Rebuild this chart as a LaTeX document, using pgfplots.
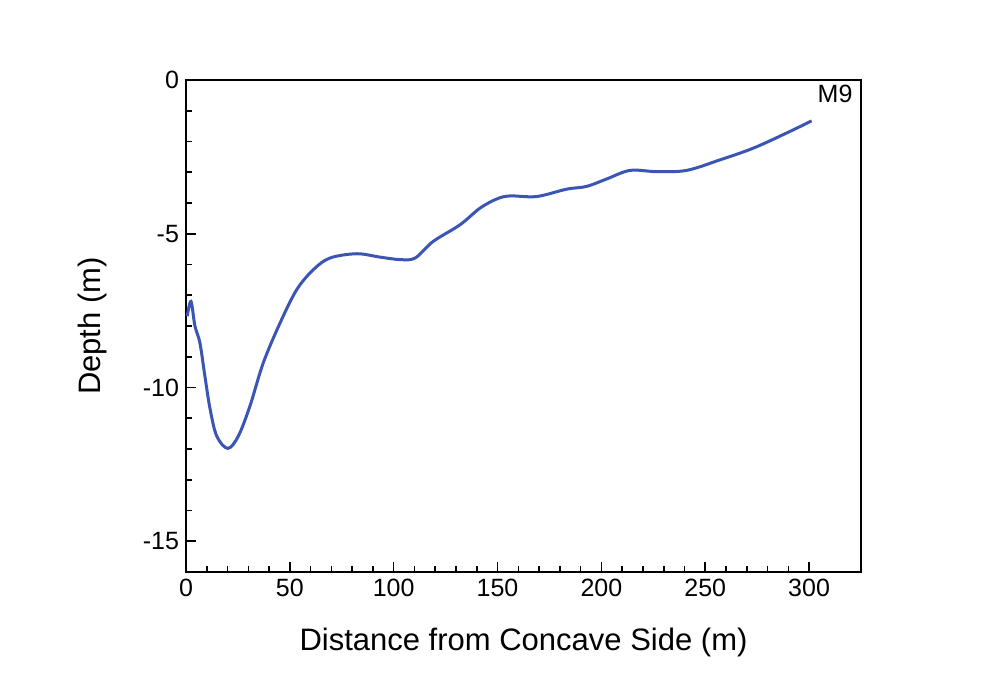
\documentclass[border=0pt]{standalone}
\usepackage{pgfplots}
\pgfplotsset{compat=1.18}
\usepackage{fontspec}
\setmainfont{Liberation Sans}
\definecolor{curveblue}{HTML}{3A55B4}

\begin{document}
\begin{tikzpicture}
\begin{axis}[
    width=337.5pt, height=246pt,
    scale only axis,
    xmin=0, xmax=325,
    ymin=-16, ymax=0,
    xtick={0,50,...,300},
    ytick={-15,-10,-5,0},
    minor x tick num=4,
    minor y tick num=4,
    tick align=inside,
    xtick pos=bottom, ytick pos=left,
    major tick length=5pt,
    minor tick length=3pt,
    axis line style={line width=0.8pt},
    every tick/.style={black, line width=0.8pt},
    tick label style={font=\fontsize{12.5}{14}\selectfont},
    /pgf/number format/assume math mode=true,
    xlabel={Distance from Concave Side (m)},
    ylabel={Depth (m)},
    label style={font=\fontsize{15.5}{17}\selectfont},
    xlabel style={yshift=-9pt},
    ylabel style={yshift=11pt},
    clip=false,
]
\addplot[curveblue, line width=1.5pt, smooth, tension=0.55] coordinates {
(0.6,-7.68) (2.4,-7.2) (4.3,-8.0) (6.7,-8.55) (9.1,-9.63) (11.6,-10.7)
(14.8,-11.58) (20.1,-11.98) (25.2,-11.58) (30.8,-10.6) (37.2,-9.2)
(45.3,-7.9) (53.3,-6.82) (61.3,-6.17) (69.3,-5.79) (82.2,-5.65)
(93.4,-5.76) (103,-5.84) (110.3,-5.79) (119,-5.25) (131.9,-4.71)
(141.5,-4.17) (149.6,-3.87) (156,-3.77) (168.8,-3.79) (183.3,-3.55)
(192.9,-3.46) (202.5,-3.22) (213.8,-2.94) (226.6,-2.98) (241,-2.94)
(257,-2.6) (273,-2.22) (289,-1.73) (301.2,-1.33)
};
\node[font=\fontsize{12.5}{14}\selectfont] at (axis cs:312.5,-0.45) {M9};
\end{axis}
\path[use as bounding box] (current axis.south west) ++(-93pt,-53.5pt) rectangle ++(494.5pt,339.5pt);
\end{tikzpicture}
\end{document}
